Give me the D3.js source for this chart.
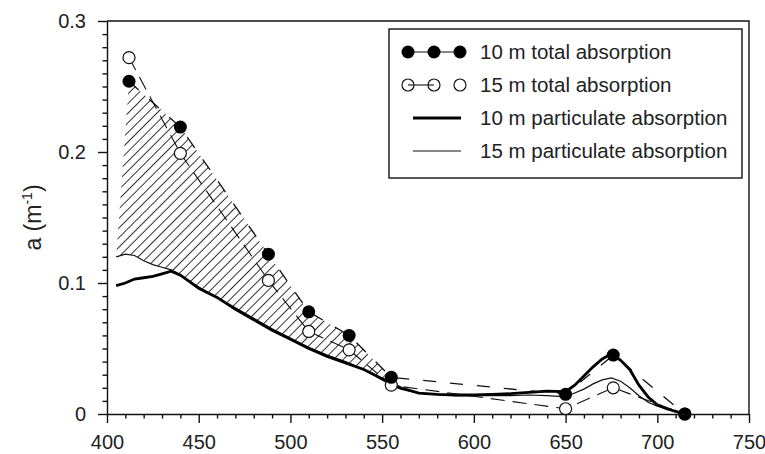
<!DOCTYPE html>
<html>
<head>
<meta charset="utf-8">
<script src="https://cdn.jsdelivr.net/npm/d3@7"></script>
<style>
  body { margin: 0; background: #fff; }
  svg { display: block; font-family: "Liberation Sans", Arial, sans-serif; }
</style>
</head>
<body>
<script>
var W = 765, H = 454;

// measured wavelengths (nm) for total absorption
var wavelengths = [412, 440, 488, 510, 532, 555, 650, 676, 715];
var total10 = [0.254, 0.219, 0.122, 0.078, 0.060, 0.028, 0.015, 0.045, 0.000];
var total15 = [0.272, 0.199, 0.102, 0.063, 0.049, 0.022, 0.004, 0.020, 0.000];

// particulate spectra
var partWl = [405, 410, 415, 420, 425, 430, 435, 440, 445, 450, 460, 470, 480, 490, 500,
              510, 520, 530, 540, 550, 560, 570, 580, 590, 600, 610, 620, 630, 640, 650,
              655, 660, 665, 670, 675, 680, 685, 690, 695, 700, 705, 710, 715];
var part10 = [0.098, 0.100, 0.103, 0.104, 0.105, 0.107, 0.109, 0.106, 0.101, 0.096, 0.089, 0.080, 0.072, 0.064, 0.057,
              0.050, 0.044, 0.039, 0.034, 0.027, 0.020, 0.016, 0.015, 0.0145, 0.0145, 0.015, 0.0155, 0.0165, 0.0175, 0.017,
              0.022, 0.029, 0.036, 0.042, 0.046, 0.041, 0.034, 0.022, 0.013, 0.007, 0.004, 0.002, 0.000];
var part15 = [0.120, 0.122, 0.121, 0.117, 0.114, 0.112, 0.110, 0.1065, 0.101, 0.097, 0.089, 0.081, 0.073, 0.065, 0.058,
              0.051, 0.045, 0.040, 0.034, 0.026, 0.019, 0.016, 0.015, 0.014, 0.014, 0.014, 0.014, 0.0145, 0.014, 0.013,
              0.016, 0.019, 0.023, 0.026, 0.0275, 0.025, 0.020, 0.014, 0.009, 0.006, 0.004, 0.002, 0.0005];

var xTicks = [400, 450, 500, 550, 600, 650, 700, 750];
var yTicks = [0, 0.1, 0.2, 0.3];
var legendLabels = ["10 m total absorption", "15 m total absorption",
                    "10 m particulate absorption", "15 m particulate absorption"];

var mLeft = 107, mRight = 749, mTop = 21, mBottom = 414;

var x = d3.scaleLinear().domain([400, 750]).range([mLeft, mRight]);
var y = d3.scaleLinear().domain([0, 0.3]).range([mBottom, mTop]);

var svg = d3.select("body").append("svg")
            .attr("width", W)
            .attr("height", H);

// hatch pattern
var defs = svg.append("defs");
defs.append("pattern")
    .attr("id", "hatch")
    .attr("patternUnits", "userSpaceOnUse")
    .attr("width", 6.8)
    .attr("height", 6.8)
    .attr("patternTransform", "rotate(45)")
    .append("line")
    .attr("x1", 0).attr("y1", 0)
    .attr("x2", 0).attr("y2", 6.8)
    .attr("stroke", "#000")
    .attr("stroke-width", 1.6);

function interp(xs, ys, w) {
    var i = d3.bisectRight(xs, w);
    if (i <= 0) return ys[0];
    if (i >= xs.length) return ys[ys.length - 1];
    var t = (w - xs[i - 1]) / (xs[i] - xs[i - 1]);
    return ys[i - 1] + t * (ys[i] - ys[i - 1]);
}

// hatched area: 10 m total down to particulate envelope
var hatchPts = [];
wavelengths.forEach(function(w, i) { if (w <= 555) hatchPts.push([w, total10[i]]); });
var partMax = partWl.map(function(w, i) { return Math.max(part10[i], part15[i]); });
hatchPts.push([555, interp(partWl, partMax, 555)]);
for (var i = partWl.length - 1; i >= 0; i--) {
    if (partWl[i] < 555) hatchPts.push([partWl[i], partMax[i]]);
}
svg.append("path")
   .attr("d", d3.line().x(function(d) { return x(d[0]); }).y(function(d) { return y(d[1]); })(hatchPts) + "Z")
   .attr("fill", "url(#hatch)")
   .attr("stroke", "none");

var line = d3.line()
             .x(function(d) { return x(d[0]); })
             .y(function(d) { return y(d[1]); });

// particulate lines
svg.append("path")
   .attr("d", line(partWl.map(function(w, i) { return [w, part15[i]]; })))
   .attr("fill", "none").attr("stroke", "#111").attr("stroke-width", 1.2);
svg.append("path")
   .attr("d", line(partWl.map(function(w, i) { return [w, part10[i]]; })))
   .attr("fill", "none").attr("stroke", "#000").attr("stroke-width", 2.8);

// total absorption dashed lines
svg.append("path")
   .attr("d", line(wavelengths.map(function(w, i) { return [w, total10[i]]; })))
   .attr("fill", "none").attr("stroke", "#111").attr("stroke-width", 1.3)
   .attr("stroke-dasharray", "13,14");
svg.append("path")
   .attr("d", line(wavelengths.map(function(w, i) { return [w, total15[i]]; })))
   .attr("fill", "none").attr("stroke", "#111").attr("stroke-width", 1.1)
   .attr("stroke-dasharray", "14,8");

// markers
svg.selectAll("circle.t15")
   .data(wavelengths)
   .enter().append("circle")
   .attr("class", "t15")
   .attr("cx", function(d) { return x(d); })
   .attr("cy", function(d, i) { return y(total15[i]); })
   .attr("r", 6)
   .attr("fill", "#fff").attr("stroke", "#111").attr("stroke-width", 1.2);
svg.selectAll("circle.t10")
   .data(wavelengths)
   .enter().append("circle")
   .attr("class", "t10")
   .attr("cx", function(d) { return x(d); })
   .attr("cy", function(d, i) { return y(total10[i]); })
   .attr("r", 6.5)
   .attr("fill", "#000");

// axes
var minorX = d3.range(400, 751, 10).filter(function(v) { return v % 50 !== 0; });
var minorY = d3.range(0, 31, 1).map(function(v) { return v / 100; })
               .filter(function(v, i) { return i % 10 !== 0; });

var gx = svg.append("g").attr("transform", "translate(0," + mBottom + ")");
gx.call(d3.axisBottom(x).tickValues(xTicks).tickSize(9).tickPadding(12).tickSizeOuter(0));
svg.append("g").attr("transform", "translate(0," + mBottom + ")")
   .call(d3.axisBottom(x).tickValues(minorX).tickSize(4.5).tickFormat("").tickSizeOuter(0))
   .select(".domain").remove();

var gy = svg.append("g").attr("transform", "translate(" + mLeft + ",0)");
gy.call(d3.axisLeft(y).tickValues(yTicks).tickSize(9).tickPadding(12).tickSizeOuter(0)
          .tickFormat(function(d) { return d === 0 ? "0" : d3.format(".1f")(d); }));
svg.append("g").attr("transform", "translate(" + mLeft + ",0)")
   .call(d3.axisLeft(y).tickValues(minorY).tickSize(4.5).tickFormat("").tickSizeOuter(0))
   .select(".domain").remove();

svg.selectAll(".tick text").attr("font-size", 20).attr("fill", "#222")
   .attr("font-family", "'Liberation Sans', Arial, sans-serif");
svg.selectAll(".domain, .tick line").attr("stroke", "#111").attr("stroke-width", 1.4);

// top and right frame
svg.append("path")
   .attr("d", "M" + mLeft + "," + mTop + "H" + mRight + "V" + mBottom)
   .attr("fill", "none").attr("stroke", "#111").attr("stroke-width", 1.4);

// y label
var yl = svg.append("text")
            .attr("transform", "translate(41," + ((mTop + mBottom) / 2) + ") rotate(-90)")
            .attr("text-anchor", "middle")
            .attr("font-size", 23)
            .attr("fill", "#222");
yl.append("tspan").text("a (m");
yl.append("tspan").attr("font-size", 14).attr("dy", -9).text("-1");
yl.append("tspan").attr("dy", 9).text(")");

// legend
var lg = svg.append("g");
lg.append("rect")
  .attr("x", 389).attr("y", 29).attr("width", 353).attr("height", 149)
  .attr("fill", "#fff").attr("stroke", "#111").attr("stroke-width", 1.4);

var rowY = [52, 85, 118, 151];
var symX = [408, 434, 460];

lg.append("line").attr("x1", symX[0]).attr("x2", symX[2]).attr("y1", rowY[0]).attr("y2", rowY[0])
  .attr("stroke", "#111").attr("stroke-width", 1.2);
lg.selectAll("circle.l10").data(symX).enter().append("circle")
  .attr("cx", function(d) { return d; }).attr("cy", rowY[0]).attr("r", 6.5).attr("fill", "#000");

lg.append("line").attr("x1", symX[0]).attr("x2", symX[1]).attr("y1", rowY[1]).attr("y2", rowY[1])
  .attr("stroke", "#111").attr("stroke-width", 1.1);
lg.selectAll("circle.l15").data(symX).enter().append("circle")
  .attr("cx", function(d) { return d; }).attr("cy", rowY[1]).attr("r", 6)
  .attr("fill", "none").attr("stroke", "#111").attr("stroke-width", 1.2);

lg.append("line").attr("x1", 413).attr("x2", 461).attr("y1", rowY[2]).attr("y2", rowY[2])
  .attr("stroke", "#000").attr("stroke-width", 2.8);
lg.append("line").attr("x1", 413).attr("x2", 461).attr("y1", rowY[3]).attr("y2", rowY[3])
  .attr("stroke", "#111").attr("stroke-width", 1.2);

lg.selectAll("text").data(legendLabels).enter().append("text")
  .attr("x", 480)
  .attr("y", function(d, i) { return rowY[i]; })
  .attr("dy", "0.36em")
  .attr("font-size", 20.5)
  .attr("fill", "#222")
  .text(function(d) { return d; });
</script>
</body>
</html>
